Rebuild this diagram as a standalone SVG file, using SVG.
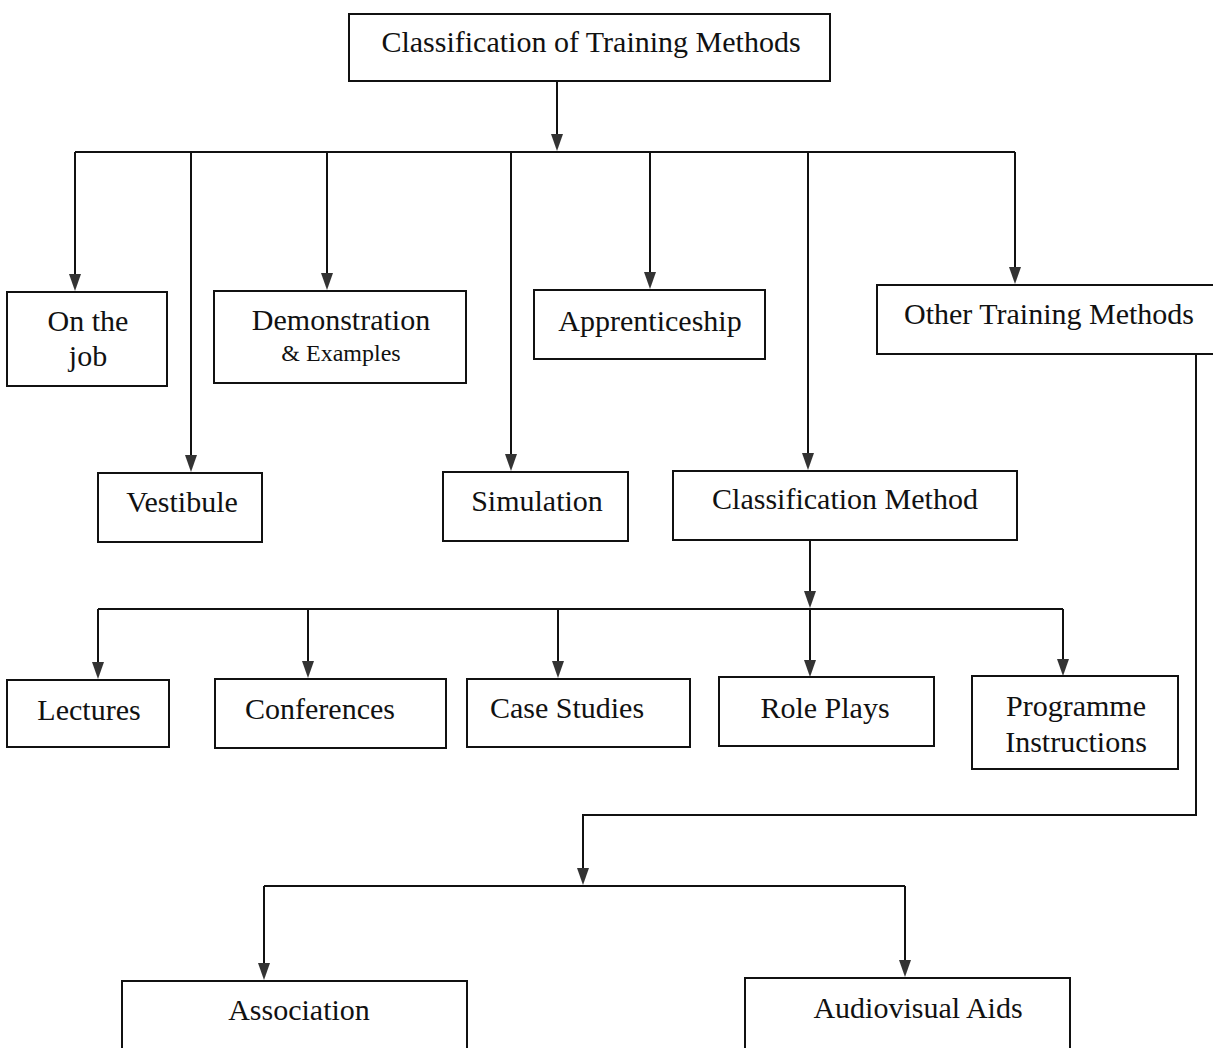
<svg xmlns="http://www.w3.org/2000/svg" width="1213" height="1048" viewBox="0 0 1213 1048">
<style>
.box{fill:#fff;stroke:#111;stroke-width:2}
.t{font-family:"Liberation Serif","Times New Roman",serif;font-size:30px;fill:#111;text-anchor:middle}
.s{font-size:24px}
.c{fill:none;stroke:#111;stroke-width:2}
.h{fill:#333}
</style>
<rect width="1213" height="1048" fill="#fff"/>
<g id="connectors">
<path class="c" d="M557,81 V134"/><path class="h" d="M551,134 L563,134 L557,151 Z"/>
<path class="c" d="M75,152 H1015"/>
<path class="c" d="M75,152 V274"/><path class="h" d="M69,274 L81,274 L75,291 Z"/>
<path class="c" d="M191,152 V455"/><path class="h" d="M185,455 L197,455 L191,472 Z"/>
<path class="c" d="M327,152 V273"/><path class="h" d="M321,273 L333,273 L327,290 Z"/>
<path class="c" d="M511,152 V454"/><path class="h" d="M505,454 L517,454 L511,471 Z"/>
<path class="c" d="M650,152 V272"/><path class="h" d="M644,272 L656,272 L650,289 Z"/>
<path class="c" d="M808,152 V453"/><path class="h" d="M802,453 L814,453 L808,470 Z"/>
<path class="c" d="M1015,152 V267"/><path class="h" d="M1009,267 L1021,267 L1015,284 Z"/>
<path class="c" d="M810,540 V591"/><path class="h" d="M804,591 L816,591 L810,608 Z"/>
<path class="c" d="M98,609 H1063"/>
<path class="c" d="M98,609 V662"/><path class="h" d="M92,662 L104,662 L98,679 Z"/>
<path class="c" d="M308,609 V661"/><path class="h" d="M302,661 L314,661 L308,678 Z"/>
<path class="c" d="M558,609 V661"/><path class="h" d="M552,661 L564,661 L558,678 Z"/>
<path class="c" d="M810,609 V660"/><path class="h" d="M804,660 L816,660 L810,677 Z"/>
<path class="c" d="M1063,609 V659"/><path class="h" d="M1057,659 L1069,659 L1063,676 Z"/>
<path class="c" d="M1196,354 V815 H583 V868"/><path class="h" d="M577,868 L589,868 L583,885 Z"/>
<path class="c" d="M264,886 H905"/>
<path class="c" d="M264,886 V963"/><path class="h" d="M258,963 L270,963 L264,980 Z"/>
<path class="c" d="M905,886 V960"/><path class="h" d="M899,960 L911,960 L905,977 Z"/>
</g>
<g id="n-root"><rect class="box" x="349" y="14" width="481" height="67"/><text class="t" x="591" y="52">Classification of Training Methods</text></g>
<g id="n-onthejob"><rect class="box" x="7" y="292" width="160" height="94"/><text class="t" x="88" y="331">On the</text><text class="t" x="88" y="366">job</text></g>
<g id="n-demo"><rect class="box" x="214" y="291" width="252" height="92"/><text class="t" x="341" y="330">Demonstration</text><text class="t s" x="341" y="361">&amp; Examples</text></g>
<g id="n-appr"><rect class="box" x="534" y="290" width="231" height="69"/><text class="t" x="650" y="331">Apprenticeship</text></g>
<g id="n-other"><rect class="box" x="877" y="285" width="345" height="69"/><text class="t" x="1049" y="324">Other Training Methods</text></g>
<g id="n-vest"><rect class="box" x="98" y="473" width="164" height="69"/><text class="t" x="182" y="512">Vestibule</text></g>
<g id="n-sim"><rect class="box" x="443" y="472" width="185" height="69"/><text class="t" x="537" y="511">Simulation</text></g>
<g id="n-classm"><rect class="box" x="673" y="471" width="344" height="69"/><text class="t" x="845" y="509">Classification Method</text></g>
<g id="n-lect"><rect class="box" x="7" y="680" width="162" height="67"/><text class="t" x="89" y="720">Lectures</text></g>
<g id="n-conf"><rect class="box" x="215" y="679" width="231" height="69"/><text class="t" x="320" y="719">Conferences</text></g>
<g id="n-case"><rect class="box" x="467" y="679" width="223" height="68"/><text class="t" x="567" y="718">Case Studies</text></g>
<g id="n-role"><rect class="box" x="719" y="677" width="215" height="69"/><text class="t" x="825" y="718">Role Plays</text></g>
<g id="n-prog"><rect class="box" x="972" y="676" width="206" height="93"/><text class="t" x="1076" y="716">Programme</text><text class="t" x="1076" y="752">Instructions</text></g>
<g id="n-assoc"><rect class="box" x="122" y="981" width="345" height="80"/><text class="t" x="299" y="1020">Association</text></g>
<g id="n-av"><rect class="box" x="745" y="978" width="325" height="80"/><text class="t" x="918" y="1018">Audiovisual Aids</text></g>
</svg>
